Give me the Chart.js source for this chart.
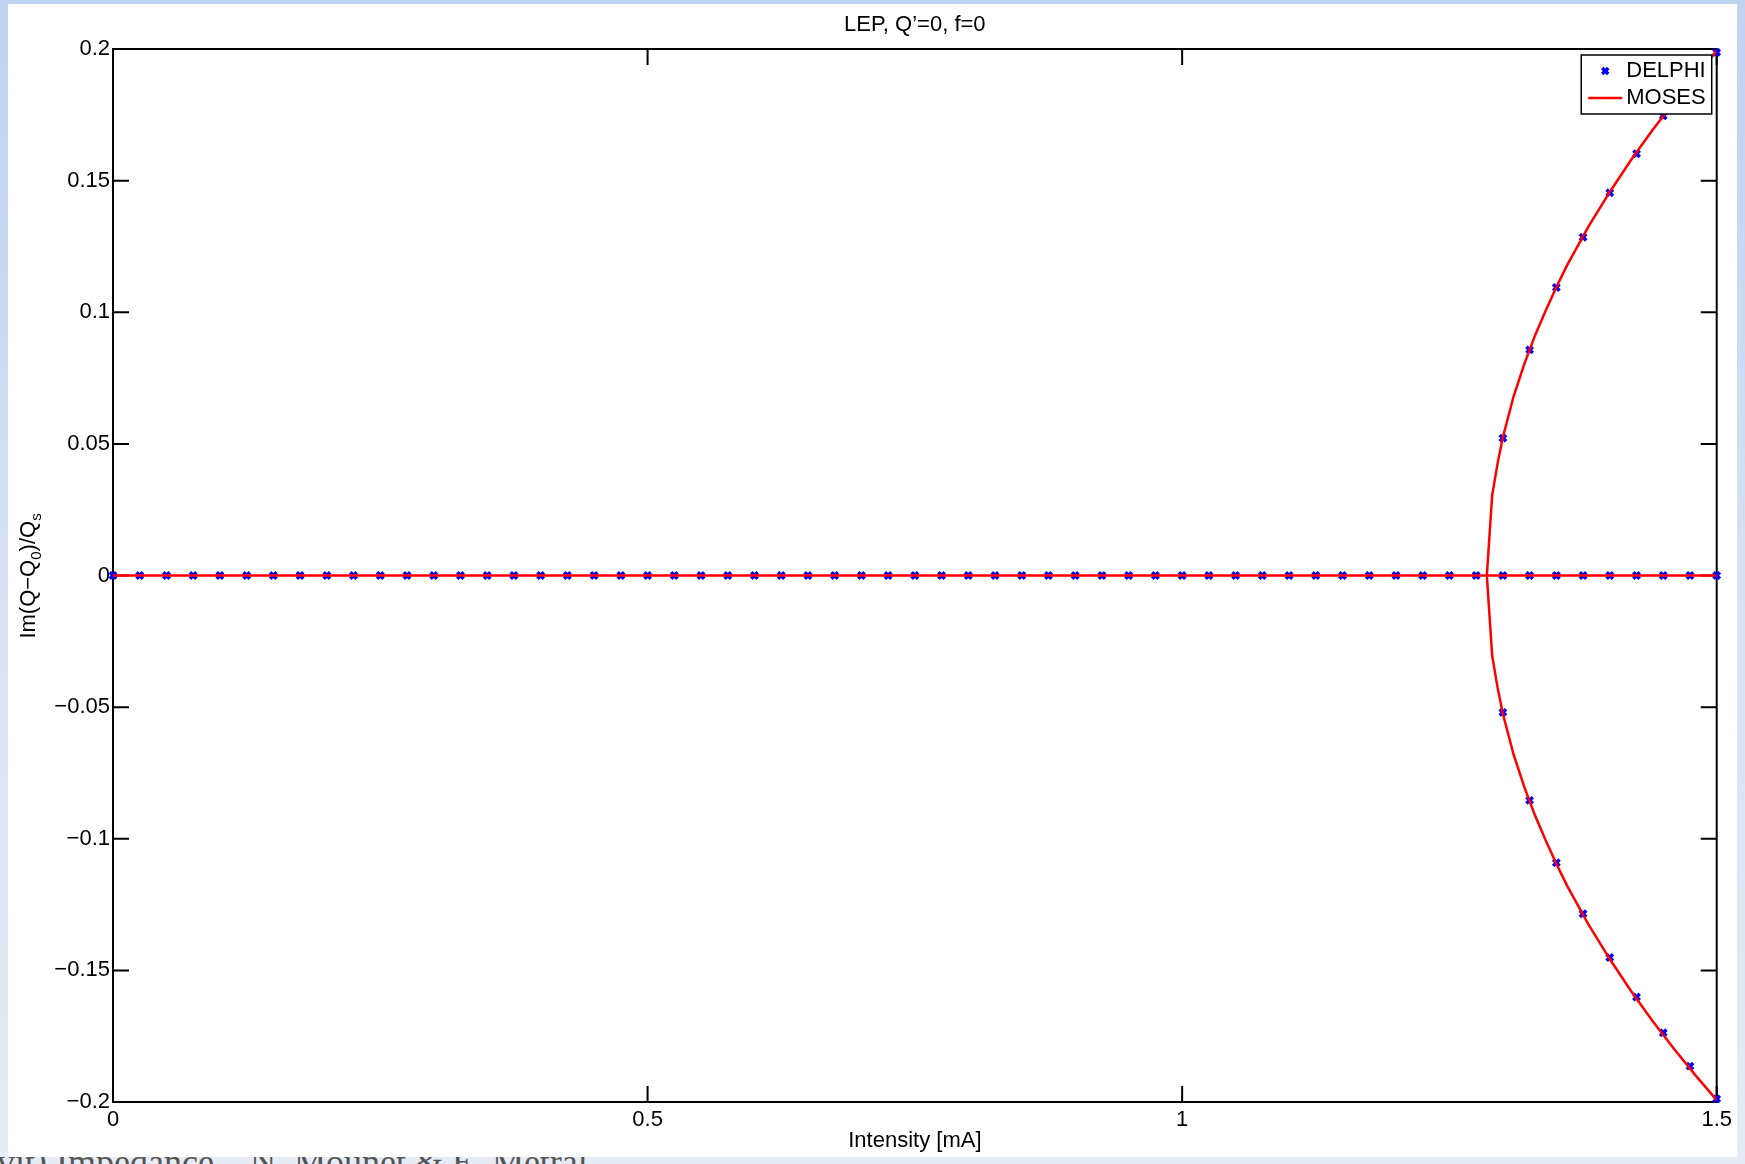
<!DOCTYPE html>
<html>
<head>
<meta charset="utf-8">
<title>LEP, Q’=0, f=0</title>
<script src="https://cdn.jsdelivr.net/npm/chart.js@4.4.1/dist/chart.umd.min.js"></script>
<style>
    body { margin: 0; width: 1745px; height: 1164px; overflow: hidden; position: relative;
           background: linear-gradient(to bottom, #bdd3f0 0%, #d6e2f3 50%, #e6ecf6 100%) }
    .Pie { position: absolute; left: -3px; top: 1144px; font: 36px 'Liberation Serif', 'DejaVu Serif', 'Times New Roman', serif; line-height: 36px; color: #555; white-space: nowrap }
    .Hoja { position: absolute; left: 8px; top: 4px; width: 1729px; height: 1153px; background: #fff }
    .Hoja canvas { display: block }
    .EjeY { position: absolute; left: -72px; top: 561px; width: 200px; height: 30px; font: 22px 'Liberation Sans', Arial, sans-serif; line-height: 30px;
            text-align: center; color: #000; transform: rotate(-90deg); white-space: nowrap }
    .EjeY sub { font-size: 15px; vertical-align: -6px; line-height: 0 }
</style>
</head>
<body>

<div class="Pie">vit) Impedance – N. Mounet &amp; E. Metral</div>

<div class="Hoja">
    <canvas id="graph" width="1729" height="1153"></canvas>
</div>

<div class="EjeY">Im(Q−Q<sub>0</sub>)/Q<sub>s</sub></div>

<script>

    // DELPHI: every 0.025 mA, all modes at zero below threshold
    const intensity = [
        0, 0.025, 0.05, 0.075, 0.1, 0.125, 0.15, 0.175, 0.2, 0.225,
        0.25, 0.275, 0.3, 0.325, 0.35, 0.375, 0.4, 0.425, 0.45, 0.475,
        0.5, 0.525, 0.55, 0.575, 0.6, 0.625, 0.65, 0.675, 0.7, 0.725,
        0.75, 0.775, 0.8, 0.825, 0.85, 0.875, 0.9, 0.925, 0.95, 0.975,
        1, 1.025, 1.05, 1.075, 1.1, 1.125, 1.15, 1.175, 1.2, 1.225,
        1.25, 1.275, 1.3, 1.325, 1.35, 1.375, 1.4, 1.425, 1.45, 1.475,
        1.5
    ]
    const delphiFlat = [
        0, 0, 0, 0, 0, 0, 0, 0, 0, 0,
        0, 0, 0, 0, 0, 0, 0, 0, 0, 0,
        0, 0, 0, 0, 0, 0, 0, 0, 0, 0,
        0, 0, 0, 0, 0, 0, 0, 0, 0, 0,
        0, 0, 0, 0, 0, 0, 0, 0, 0, 0,
        0, 0, 0, 0, 0, 0, 0, 0, 0, 0,
        0
    ]
    const branchIntensity = [1.3, 1.325, 1.35, 1.375, 1.4, 1.425, 1.45, 1.475, 1.5]
    const delphiUpper     = [0.0522, 0.0857, 0.1094, 0.1285, 0.1454, 0.1602, 0.1746, 0.1872, 0.1987]
    const delphiLower     = [-0.0520, -0.0854, -0.1091, -0.1285, -0.1451, -0.1601, -0.1737, -0.1864, -0.1988]

    // MOSES
    const mosesFlatIntensity = [0, 1.5]
    const mosesFlat          = [0, 0]
    const mosesIntensity = [1.285, 1.29, 1.295, 1.3, 1.31, 1.32, 1.33, 1.34, 1.35, 1.36, 1.38, 1.4, 1.42, 1.44, 1.46, 1.48, 1.5]
    const mosesUpper     = [0, 0.0305, 0.0425, 0.0525, 0.068, 0.0803, 0.0911, 0.1006, 0.1095, 0.1178, 0.1325, 0.1457, 0.1579, 0.1692, 0.1798, 0.1898, 0.1993]
    const mosesLower     = [0, -0.0305, -0.0425, -0.0525, -0.068, -0.0803, -0.0911, -0.1006, -0.1095, -0.1178, -0.1325, -0.1457, -0.1579, -0.1692, -0.1798, -0.1898, -0.1993]

    const xTicks = [0, 0.5, 1, 1.5]
    const yTicks = [-0.2, -0.15, -0.1, -0.05, 0, 0.05, 0.1, 0.15, 0.2]

    const font = "'Liberation Sans', Arial, sans-serif"

    let delphi = intensity.map((x, i) => ({ x, y: delphiFlat[i] }))
        .concat(branchIntensity.map((x, i) => ({ x, y: delphiUpper[i] })))
        .concat(branchIntensity.map((x, i) => ({ x, y: delphiLower[i] })))

    let mosesLine = mosesFlatIntensity.map((x, i) => ({ x, y: mosesFlat[i] }))

    let mosesBranch = mosesIntensity.map((x, i) => ({ x, y: mosesUpper[i] })).reverse()
        .concat(mosesIntensity.slice(1).map((x, i) => ({ x, y: mosesLower[i + 1] })))

    let label = value => String(value).replace('-', '\u2212')

    // MATLAB style box with inward ticks
    const frame = {
        id: 'frame',
        beforeDatasetsDraw(chart) {

            let { ctx, chartArea: { left, right, top, bottom }, scales: { x, y } } = chart

            ctx.save()
            ctx.strokeStyle = '#000'
            ctx.lineWidth = 2
            ctx.strokeRect(left, top, right - left, bottom - top)
            ctx.beginPath()
            xTicks.forEach(v => {
                let px = x.getPixelForValue(v)
                ctx.moveTo(px, bottom)
                ctx.lineTo(px, bottom - 16)
                ctx.moveTo(px, top)
                ctx.lineTo(px, top + 16)
            })
            yTicks.forEach(v => {
                let py = y.getPixelForValue(v)
                ctx.moveTo(left, py)
                ctx.lineTo(left + 16, py)
                ctx.moveTo(right, py)
                ctx.lineTo(right - 16, py)
            })
            ctx.stroke()
            ctx.restore()

        }
    }

    const legend = {
        id: 'boxLegend',
        afterDatasetsDraw(chart) {

            let { ctx, chartArea } = chart

            ctx.save()
            ctx.font = '22px ' + font
            let w = 45 + Math.max(ctx.measureText('DELPHI').width, ctx.measureText('MOSES').width) + 6
            let h = 59
            let bx = chartArea.right - 5 - w
            let by = chartArea.top + 6

            ctx.fillStyle = '#fff'
            ctx.fillRect(bx, by, w, h)
            ctx.strokeStyle = '#000'
            ctx.lineWidth = 1.5
            ctx.strokeRect(bx, by, w, h)

            let mx = bx + 24, my = by + 16, r = 3
            ctx.strokeStyle = '#0000ff'
            ctx.lineWidth = 3.5
            ctx.beginPath()
            ctx.moveTo(mx - r, my - r)
            ctx.lineTo(mx + r, my + r)
            ctx.moveTo(mx + r, my - r)
            ctx.lineTo(mx - r, my + r)
            ctx.stroke()

            ctx.strokeStyle = '#ff0000'
            ctx.lineWidth = 2.5
            ctx.beginPath()
            ctx.moveTo(bx + 7, by + 43)
            ctx.lineTo(bx + 41, by + 43)
            ctx.stroke()

            ctx.fillStyle = '#000'
            ctx.textBaseline = 'middle'
            ctx.textAlign = 'left'
            ctx.fillText('DELPHI', bx + 45, by + 16)
            ctx.fillText('MOSES', bx + 45, by + 43)
            ctx.restore()

        }
    }

    let graph = {
        type: 'scatter',
        data: {
            datasets: [{
                label: 'MOSES',
                data: mosesLine,
                showLine: true,
                borderColor: '#ff0000',
                borderWidth: 2.5,
                pointRadius: 0,
                order: 0
            },{
                label: 'MOSES branch',
                data: mosesBranch,
                showLine: true,
                borderColor: '#ff0000',
                borderWidth: 2.5,
                pointRadius: 0,
                tension: 0,
                order: 0
            },{
                label: 'DELPHI',
                data: delphi,
                showLine: false,
                pointStyle: 'crossRot',
                pointRadius: 4.5,
                borderColor: '#0000ff',
                backgroundColor: '#0000ff',
                pointBorderWidth: 3.5,
                clip: false,
                order: 1
            }]
        },
        options: {
            responsive: false,
            devicePixelRatio: 1,
            animation: false,
            events: [],
            layout: {
                padding: { left: 0, right: 20, top: 0, bottom: 0 }
            },
            plugins: {
                legend: { display: false },
                tooltip: { enabled: false },
                title: {
                    display: true,
                    fullSize: false,
                    text: 'LEP, Q’=0, f=0',
                    color: '#000',
                    font: { family: font, size: 22, weight: 'normal' },
                    padding: { top: 8, bottom: 10.6 }
                }
            },
            scales: {
                x: {
                    type: 'linear',
                    min: 0,
                    max: 1.5,
                    afterBuildTicks: scale => { scale.ticks = xTicks.map(value => ({ value })) },
                    afterFit: scale => { scale.height = 55 },
                    grid: { display: false, drawTicks: false },
                    border: { display: false },
                    ticks: {
                        color: '#000',
                        padding: 5,
                        maxRotation: 0,
                        font: { family: font, size: 22 },
                        callback: label
                    },
                    title: {
                        display: true,
                        text: 'Intensity [mA]',
                        color: '#000',
                        font: { family: font, size: 22 },
                        padding: { top: 0, bottom: 3 }
                    }
                },
                y: {
                    type: 'linear',
                    min: -0.2,
                    max: 0.2,
                    afterBuildTicks: scale => { scale.ticks = yTicks.map(value => ({ value })) },
                    afterFit: scale => { scale.width = 105 },
                    grid: { display: false, drawTicks: false },
                    border: { display: false },
                    ticks: {
                        color: '#000',
                        padding: 3,
                        font: { family: font, size: 22 },
                        callback: label
                    }
                }
            }
        },
        plugins: [frame, legend]
    }

    let canvas = document.getElementById('graph')
    let ctx = canvas.getContext('2d')
    let chart = new Chart(ctx, graph)

</script>
</body>
</html>
